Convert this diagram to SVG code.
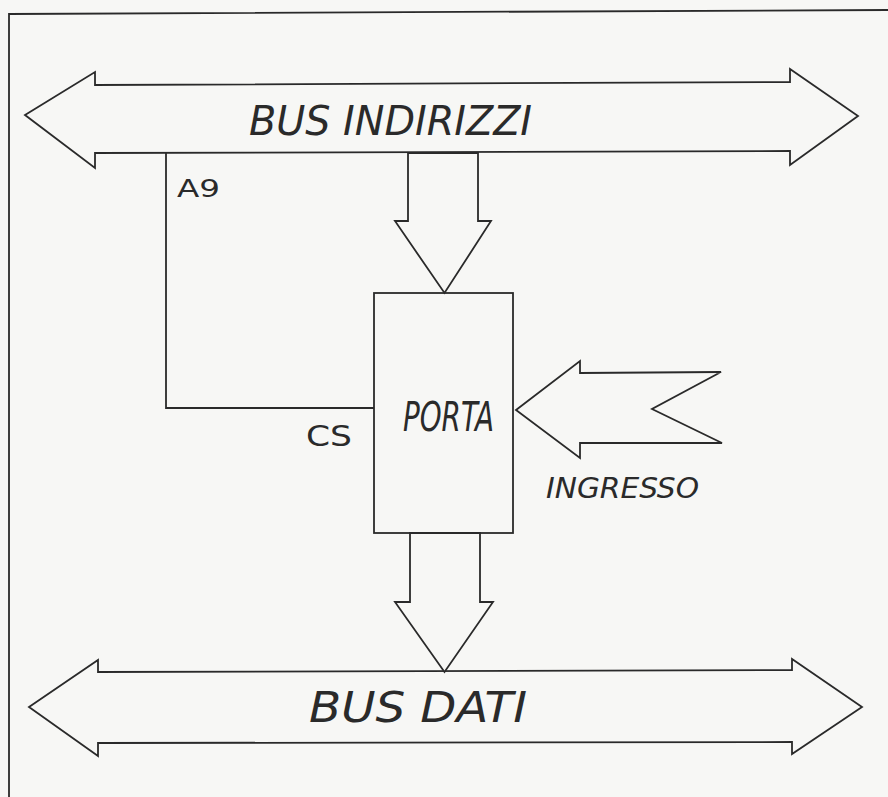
<svg xmlns="http://www.w3.org/2000/svg" width="888" height="797" viewBox="0 0 888 797">
<style>
.ln{fill:none;stroke:#2a2a2a;stroke-width:1.8;stroke-linejoin:miter}
.sh{fill:#f7f7f5;stroke:#2a2a2a;stroke-width:1.8}
.t{font-family:"DejaVu Sans Condensed","DejaVu Sans","Liberation Sans",sans-serif;fill:#2a2a2a;font-weight:normal}
.it{font-style:italic}
</style>
<rect width="888" height="797" fill="#f7f7f5"/>
<g id="frame">
<polyline class="ln" points="9,797 9,14 888,10"/>
</g>
<g id="bus-indirizzi">
<polygon class="sh" points="25,115 95,72 95,85 790,82 790,69 858,116 790,165 790,151 95,153 95,168"/>
<text class="t it" x="249" y="135" font-size="41" textLength="283" lengthAdjust="spacingAndGlyphs">BUS INDIRIZZI</text>
</g>
<g id="porta">
<rect class="sh" x="374" y="293" width="139" height="240"/>
<text class="t it" x="403" y="431" font-size="40" textLength="91" lengthAdjust="spacingAndGlyphs">PORTA</text>
</g>
<g id="bus-dati">
<polygon class="sh" points="29,707 98,660 98,672 792,670 792,659 862,707 792,754 792,742 98,743 98,756"/>
<text class="t it" x="309" y="722" font-size="43" textLength="218" lengthAdjust="spacingAndGlyphs">BUS DATI</text>
</g>
<g id="ingresso">
<polygon class="sh" points="516,410 580,361 580,373 721,372 652,409 722,443 580,443 580,458"/>
<text class="t it" x="546" y="498" font-size="28" textLength="153" lengthAdjust="spacingAndGlyphs">INGRESSO</text>
</g>
<g id="connectors">
<polygon class="sh" points="408,153 408,221 395,221 444.5,293 491,221 478,221 478,153"/>
<polygon class="sh" points="410,533 410,602 395,602 444.5,672 493,602 480,602 480,533"/>
<polyline class="ln" points="166,153 166,408 374,408"/>
<text class="t" x="177" y="197" font-size="25" textLength="43" lengthAdjust="spacingAndGlyphs">A9</text>
<text class="t" x="306" y="446" font-size="28" textLength="46" lengthAdjust="spacingAndGlyphs">CS</text>
</g>
</svg>
